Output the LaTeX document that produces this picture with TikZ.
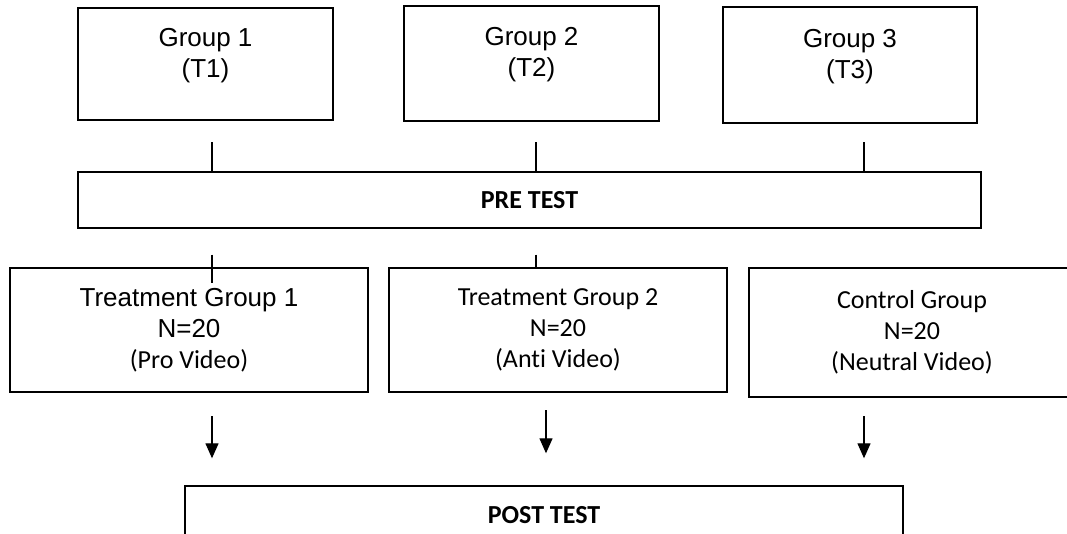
\documentclass[tikz,border=0pt]{standalone}
\usepackage{fontspec}
\setmainfont{Carlito}[Ligatures=NoCommon]
\newfontfamily\arial{Liberation Sans}
\usetikzlibrary{arrows.meta}

\newcommand{\boxfont}{\fontsize{26}{31}\selectfont}

\tikzstyle{groupbox} = [rectangle, draw=black, line width=2.6pt, align=center, font=\boxfont\arial]
\tikzstyle{videobox} = [rectangle, draw=black, line width=2.6pt, align=center, font=\boxfont]
\tikzstyle{testbox} = [rectangle, draw=black, line width=2.6pt, font=\boxfont\bfseries]
\tikzstyle{link} = [line width=1.3pt]
\tikzstyle{arrow} = [line width=1.3pt, -{Triangle[width=13pt,length=15pt]}]

\begin{document}
\begin{tikzpicture}[x=1pt, y=1pt]
\useasboundingbox (0,0) rectangle (1067,-533);

%%%%% GROUPS
\node (g1) [groupbox, minimum width=255pt, minimum height=112pt] at (205.5,-64) {Group 1\\(T1)\\[-8pt]\mbox{}};
\node (g2) [groupbox, minimum width=255pt, minimum height=115pt] at (531.5,-63.5) {Group 2\\(T2)\\[-8pt]\mbox{}};
\node (g3) [groupbox, minimum width=254pt, minimum height=116pt] at (850,-65) {Group 3\\(T3)\\[-8pt]\mbox{}};

\node (pre) [testbox, minimum width=903pt, minimum height=56pt] at (529.5,-200) {PRE TEST};

%%%%% TREATMENTS
\node (tg1) [videobox, minimum width=358pt, minimum height=124pt] at (189,-330) {\arial Treatment Group 1\\\arial N=20\\(Pro Video)};
\node (tg2) [videobox, minimum width=338pt, minimum height=124pt] at (558,-330) {Treatment Group 2\\N=20\\(Anti Video)};
\node (cg) [videobox, minimum width=326pt, minimum height=129pt] at (912,-332.5) {Control Group\\N=20\\(Neutral Video)};

\node (post) [testbox, below of=pre, node distance=315pt, xshift=14.5pt, minimum width=718pt, minimum height=58pt] {POST TEST};

%%%%% TICKS AND ARROWS
\draw [link] (pre.north -| 212,0) -- ++(0,29);
\draw [link] (pre.north -| 536,0) -- ++(0,29);
\draw [link] (pre.north -| 864,0) -- ++(0,29);

\draw [link] (tg1.north -| 212,0) ++(0,12) -- ++(0,-28);
\draw [link] (tg2.north -| 536,0) ++(0,12) -- ++(0,-12);

\draw [arrow] (tg1.south -| 212,0) ++(0,-23) -- ++(0,-42);
\draw [arrow] (tg2.south -| 546,0) ++(0,-17) -- ++(0,-43);
\draw [arrow] (cg.south -| 864,0) ++(0,-18) -- ++(0,-42);
\end{tikzpicture}
\end{document}
